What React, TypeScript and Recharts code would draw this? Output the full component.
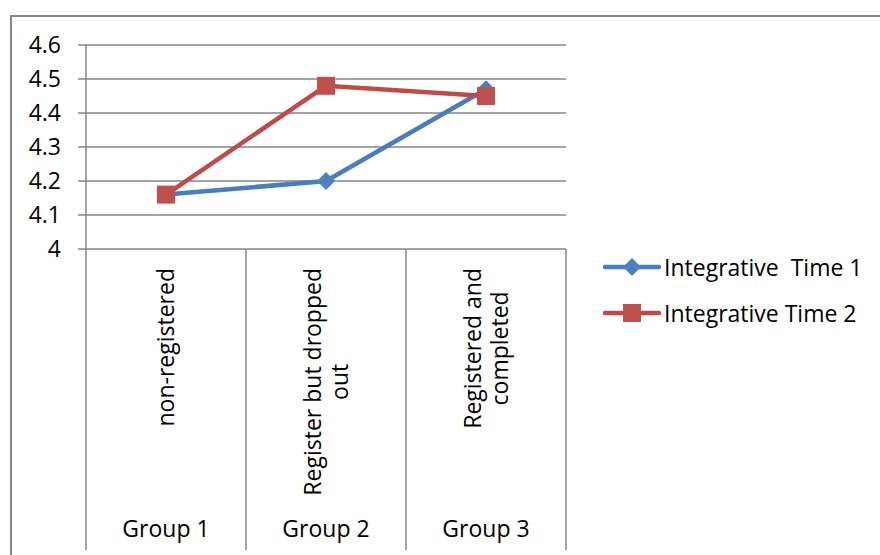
import React from 'react';
import { LineChart, Line, XAxis, YAxis, CartesianGrid } from 'recharts';

const CATEGORIES = ['non-registered', 'Register but dropped\nout', 'Registered and\ncompleted'];
const GROUPS = ['Group 1', 'Group 2', 'Group 3'];
const TIME_1 = [4.16, 4.2, 4.47];
const TIME_2 = [4.16, 4.48, 4.45];
const Y_TICKS = [4, 4.1, 4.2, 4.3, 4.4, 4.5, 4.6];

const SERIES = [
  { key: 't1', name: 'Integrative  Time 1', line: '#4A7EBB', fill: '#4F81BD', marker: 'diamond' },
  { key: 't2', name: 'Integrative Time 2', line: '#BE4B48', fill: '#C0504D', marker: 'square' },
];

const data = CATEGORIES.map((name, i) => ({
  name,
  group: GROUPS[i],
  t1: TIME_1[i],
  t2: TIME_2[i],
}));

const W = 880;
const H = 555;
const PLOT_LEFT = 86;
const PLOT_RIGHT = 566;
const PLOT_TOP = 45;
const PLOT_BOTTOM = 249;
const SEP_BOTTOM = 550;
const LABEL_TOP = 268;
const GROUP_BASELINE = 537;
const CAT_W = (PLOT_RIGHT - PLOT_LEFT) / CATEGORIES.length;
const FONT = '"Open Sans", sans-serif';
const FONT_SIZE = 23;
const LINE_H = 27;
const GRID = '#868686';

let ctx: CanvasRenderingContext2D | null = null;
function textWidth(s: string) {
  if (!ctx) {
    ctx = document.createElement('canvas').getContext('2d');
  }
  if (!ctx) return s.length * FONT_SIZE * 0.5;
  ctx.font = `${FONT_SIZE}px "Open Sans"`;
  return ctx.measureText(s).width;
}

function CategoryTick(props: any) {
  const { x, payload } = props;
  const i = payload.index;
  const lines = String(payload.value).split('\n');
  const maxW = Math.max(...lines.map(textWidth));
  const cy = LABEL_TOP + maxW / 2;
  const n = lines.length;
  const half = CAT_W / 2;
  return (
    <g>
      {i === 0 && (
        <line x1={x - half} y1={PLOT_BOTTOM} x2={x - half} y2={SEP_BOTTOM} stroke={GRID} strokeWidth={1.5} />
      )}
      <line x1={x + half} y1={PLOT_BOTTOM} x2={x + half} y2={SEP_BOTTOM} stroke={GRID} strokeWidth={1.5} />
      <text
        transform={`translate(${x},${cy}) rotate(-90)`}
        textAnchor="middle"
        fontFamily={FONT}
        fontSize={FONT_SIZE}
        fill="#000"
      >
        {lines.map((l, k) => (
          <tspan key={k} x={0} y={(k - (n - 1) / 2) * LINE_H + 8}>
            {l}
          </tspan>
        ))}
      </text>
      <text x={x} y={GROUP_BASELINE} textAnchor="middle" fontFamily={FONT} fontSize={FONT_SIZE} fill="#000">
        {GROUPS[i]}
      </text>
    </g>
  );
}

function Marker({ cx, cy, type, fill }: any) {
  if (cx == null || cy == null) return null;
  if (type === 'square') {
    return <rect x={cx - 9} y={cy - 9} width={18} height={18} fill={fill} />;
  }
  const r = 9;
  return <path d={`M${cx},${cy - r} L${cx + r},${cy} L${cx},${cy + r} L${cx - r},${cy} Z`} fill={fill} />;
}

function LegendMarker({ type, fill, line }: any) {
  return (
    <svg width={58} height={24} style={{ display: 'block' }}>
      <line x1={2} y1={12} x2={56} y2={12} stroke={line} strokeWidth={4.5} strokeLinecap="round" />
      <Marker cx={29} cy={12} type={type} fill={fill} />
    </svg>
  );
}

export default function App() {
  return (
    <div style={{ position: 'relative', width: W, height: H, overflow: 'hidden', background: '#fff' }}>
      <style>{`body{margin:0}`}</style>
      <div
        style={{
          position: 'absolute',
          left: 10,
          top: 15,
          width: W,
          height: H,
          borderLeft: `2px solid ${GRID}`,
          borderTop: `2px solid ${GRID}`,
        }}
      />
      <div style={{ position: 'absolute', left: 0, top: 0 }}>
        <LineChart width={W} height={H} data={data} margin={{ top: PLOT_TOP, right: W - PLOT_RIGHT, bottom: 6, left: 0 }}>
          <CartesianGrid vertical={false} stroke={GRID} strokeWidth={1.5} />
          <XAxis
            dataKey="name"
            height={H - 6 - PLOT_BOTTOM}
            padding={{ left: CAT_W / 2, right: CAT_W / 2 }}
            axisLine={false}
            tickLine={false}
            interval={0}
            tick={<CategoryTick />}
          />
          <YAxis
            width={PLOT_LEFT}
            domain={[4, 4.6]}
            ticks={Y_TICKS}
            tickFormatter={(v: number) => String(v)}
            axisLine={{ stroke: GRID, strokeWidth: 1.5 }}
            tickLine={{ stroke: GRID, strokeWidth: 1.5 }}
            tickSize={8}
            tickMargin={17}
            tick={{ fill: '#000', fontSize: FONT_SIZE, fontFamily: FONT }}
          />
          {SERIES.map((s) => (
            <Line
              key={s.key}
              dataKey={s.key}
              name={s.name}
              type="linear"
              stroke={s.line}
              strokeWidth={4.5}
              isAnimationActive={false}
              dot={(p: any) => <Marker key={`${s.key}-${p.index}`} cx={p.cx} cy={p.cy} type={s.marker} fill={s.fill} />}
              activeDot={false}
            />
          ))}
        </LineChart>
      </div>
      <div style={{ position: 'absolute', left: 603, top: 244, fontFamily: FONT, fontSize: FONT_SIZE }}>
        {SERIES.map((s) => (
          <div key={s.key} style={{ display: 'flex', alignItems: 'center', height: 46, whiteSpace: 'pre' }}>
            <LegendMarker type={s.marker} fill={s.fill} line={s.line} />
            <span style={{ marginLeft: 3 }}>{s.name}</span>
          </div>
        ))}
      </div>
    </div>
  );
}
